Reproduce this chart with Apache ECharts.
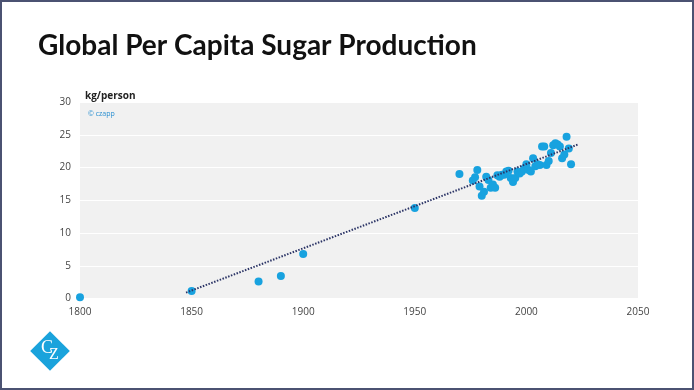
<!DOCTYPE html>
<html>
<head>
<meta charset="utf-8">
<script src="https://cdn.jsdelivr.net/npm/echarts@6/dist/echarts.min.js"></script>
<style>html,body{margin:0;padding:0;background:#fff}#c{width:694px;height:390px}</style>
</head>
<body>
<div id="c"></div>
<script>
const titleText = 'Global Per Capita Sugar Production';
const yAxisTitle = 'kg/person';
const sourceText = '© czapp';
const years = [1800, 1850, 1880, 1890, 1900, 1950, 1970, 1976, 1977, 1978, 1979, 1980, 1981, 1982, 1983, 1984, 1985, 1986, 1987, 1988, 1989, 1990, 1991, 1992, 1993, 1994, 1995, 1996, 1997, 1998, 1999, 2000, 2001, 2002, 2003, 2004, 2005, 2006, 2007, 2008, 2009, 2010, 2011, 2012, 2013, 2014, 2015, 2016, 2017, 2018, 2019, 2020];
const production = [0.2, 1.15, 2.6, 3.45, 6.8, 13.8, 19.0, 18.0, 18.5, 19.6, 17.1, 15.7, 16.3, 18.6, 18.1, 16.9, 17.4, 16.9, 18.8, 18.6, 18.9, 18.9, 19.4, 19.5, 18.4, 17.8, 18.4, 19.4, 19.1, 19.4, 19.8, 20.5, 19.6, 19.4, 21.4, 20.2, 20.5, 20.4, 23.2, 23.2, 20.4, 21.0, 22.2, 23.4, 23.7, 23.5, 23.2, 21.4, 22.0, 24.7, 22.9, 20.5];
const trendYears = [1847.5, 2023];
const trendValues = [0.9, 23.5];
const xTicks = [1800, 1850, 1900, 1950, 2000, 2050];
const yTicks = [0, 5, 10, 15, 20, 25, 30];

const chart = echarts.init(document.getElementById('c'), null, {renderer: 'canvas'});
chart.setOption({
  animation: false,
  backgroundColor: '#ffffff',
  title: {
    text: titleText, left: 33, top: 27,
    textStyle: {fontFamily: 'Lato', fontWeight: 'bold', fontSize: 28, color: '#111'}
  },
  grid: {left: 80, right: 56, top: 102, bottom: 91.5, show: true, backgroundColor: '#f1f1f1', borderWidth: 0},
  xAxis: {
    type: 'value', min: xTicks[0], max: xTicks[xTicks.length - 1], interval: 50,
    axisLine: {show: false}, axisTick: {show: false}, splitLine: {show: false},
    axisLabel: {color: '#444', fontSize: 10, fontFamily: 'Open Sans', margin: 9, formatter: v => String(v)}
  },
  yAxis: {
    type: 'value', min: yTicks[0], max: yTicks[yTicks.length - 1], interval: 5,
    axisLine: {show: false}, axisTick: {show: false},
    splitLine: {show: true, lineStyle: {color: '#ffffff', width: 1}},
    axisLabel: {color: '#444', fontSize: 10, fontFamily: 'Open Sans', margin: 9}
  },
  series: [
    {
      type: 'line', data: trendYears.map((y, i) => [y, trendValues[i]]),
      symbol: 'none', lineStyle: {color: '#2b3466', width: 2, type: [1.5, 1.5]}, z: 3
    },
    {
      type: 'scatter', data: years.map((y, i) => [y, production[i]]),
      symbolSize: 8, itemStyle: {color: '#18a2df', opacity: 1}, z: 2
    }
  ],
  graphic: [
    {type: 'text', left: 85, top: 91, style: {text: yAxisTitle, font: 'bold 10px "Open Sans"', fill: '#222'}},
    {type: 'text', left: 88, top: 110, style: {text: sourceText, font: '7px "Open Sans"', fill: '#2a8fd0'}},
    {type: 'rect', shape: {x: 1, y: 1, width: 692, height: 388}, style: {fill: 'none', stroke: '#4b5272', lineWidth: 2}, z: 100},
    {type: 'rect', shape: {x: -14, y: -14, width: 28, height: 28}, x: 50, y: 351, rotation: Math.PI / 4, style: {fill: '#1aa3dc'}, z: 10},
    {type: 'text', x: 47, y: 348, style: {text: 'C', font: '18px "Liberation Serif"', fill: '#fff', align: 'center', verticalAlign: 'middle'}, z: 11},
    {type: 'text', x: 54, y: 355, style: {text: 'Z', font: '16px "Liberation Serif"', fill: '#fff', align: 'center', verticalAlign: 'middle'}, z: 11}
  ]
});
</script>
</body>
</html>
